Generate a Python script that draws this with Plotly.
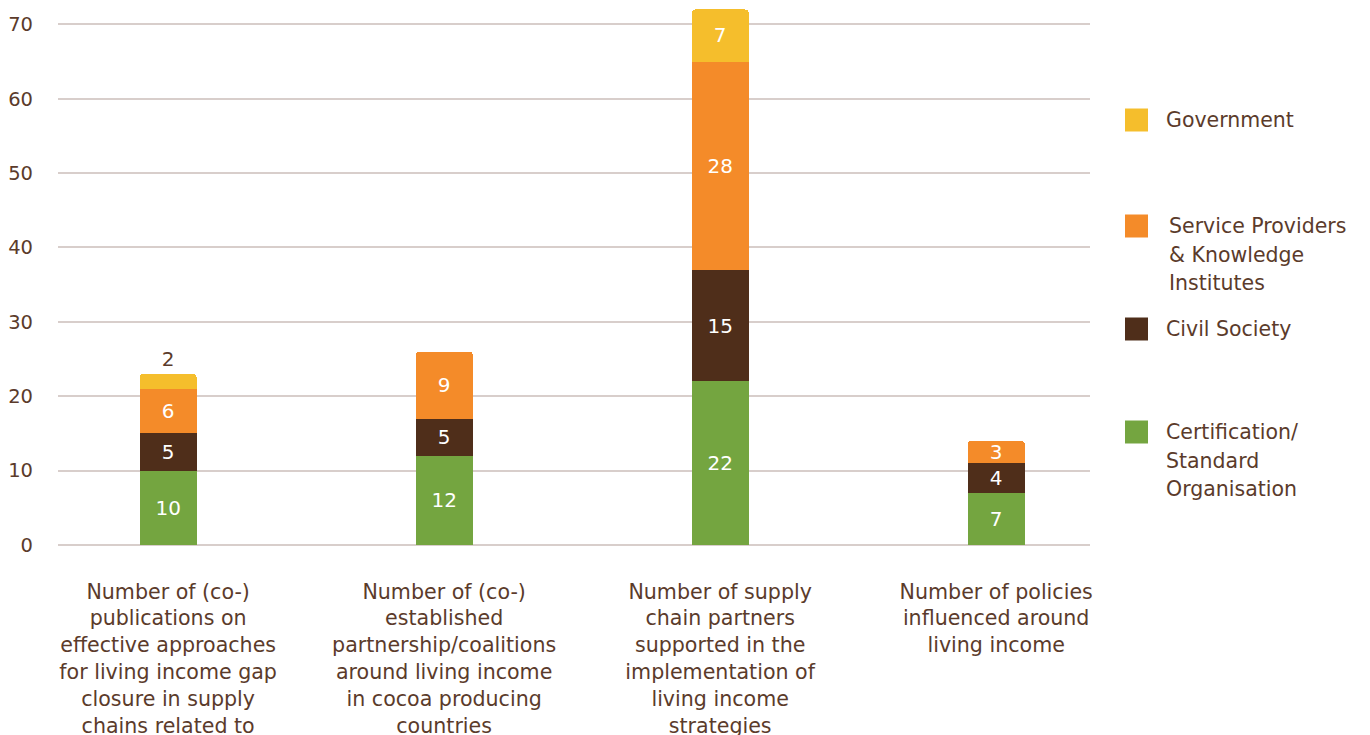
import plotly.graph_objects as go

# Categories (x axis) and stacked series
categories = [
    "Number of (co-)<br>publications on<br>effective approaches<br>for living income gap<br>closure in supply<br>chains related to",
    "Number of (co-)<br>established<br>partnership/coalitions<br>around living income<br>in cocoa producing<br>countries",
    "Number of supply<br>chain partners<br>supported in the<br>implementation of<br>living income<br>strategies",
    "Number of policies<br>influenced around<br>living income",
]
certification = [10, 12, 22, 7]
civil_society = [5, 5, 15, 4]
service_providers = [6, 9, 28, 3]
government = [2, None, 7, None]

series_names = ["Certification/ Standard Organisation", "Civil Society",
                "Service Providers & Knowledge Institutes", "Government"]
legend_lines = {
    "Government": ["Government"],
    "Service Providers & Knowledge Institutes": ["Service Providers", "& Knowledge", "Institutes"],
    "Civil Society": ["Civil Society"],
    "Certification/ Standard Organisation": ["Certification/", "Standard", "Organisation"],
}
y_ticks = [0, 10, 20, 30, 40, 50, 60, 70]

colors = {
    "Government": "#F5BE2C",
    "Service Providers & Knowledge Institutes": "#F48B29",
    "Civil Society": "#4F2E1A",
    "Certification/ Standard Organisation": "#74A540",
}
TEXT = "#5B3B2B"
GRID = "#D8CECB"
FONT = "DejaVu Sans"

x_pos = list(range(len(categories)))
fig = go.Figure()

values_by_series = [certification, civil_society, service_providers, government]
for name, vals in zip(series_names, values_by_series):
    labels = ["" if v is None else str(v) for v in vals]
    if name == "Government":
        positions = ["outside" if (v is not None and v < 4) else "inside" for v in vals]
    else:
        positions = ["inside"] * len(vals)
    fig.add_trace(go.Bar(
        x=x_pos, y=vals, name=name,
        marker=dict(color=colors[name], line=dict(width=0)),
        width=0.207,
        text=labels, textposition=positions, textangle=0,
        insidetextanchor="middle", constraintext="none",
        insidetextfont=dict(color="white", size=20, family=FONT),
        outsidetextfont=dict(color=TEXT, size=20, family=FONT),
        cliponaxis=False,
        showlegend=False,
    ))

# Plot area geometry (pixels) used to place the custom legend
L, R, T, B = 58, 280, 2, 190
W, H = 1370, 735
pw, ph = W - L - R, H - T - B

def px_x(px):
    return (px - L) / pw

def px_y(py):
    return (H - B - py) / ph

legend_order = ["Government", "Service Providers & Knowledge Institutes",
                "Civil Society", "Certification/ Standard Organisation"]
legend_marker_y = [120, 226, 329, 432]
legend_text_x = [1164, 1167, 1164, 1164]
line_step = 28.5

shapes = []
annotations = []
for name, my, tx in zip(legend_order, legend_marker_y, legend_text_x):
    shapes.append(dict(
        type="rect", xref="paper", yref="paper",
        x0=px_x(1125), x1=px_x(1148), y0=px_y(my + 11.5), y1=px_y(my - 11.5),
        fillcolor=colors[name], line=dict(width=0),
    ))
    for i, line in enumerate(legend_lines[name]):
        annotations.append(dict(
            xref="paper", yref="paper", x=px_x(tx), y=px_y(my + i * line_step),
            xanchor="left", yanchor="middle", text=line, showarrow=False,
            font=dict(size=20.5, color=TEXT, family=FONT),
        ))

fig.update_layout(
    width=W, height=H,
    margin=dict(l=L, r=R, t=T, b=B, pad=0, autoexpand=False),
    barmode="stack",
    barcornerradius=4,
    uniformtext=dict(minsize=20, mode="show"),
    paper_bgcolor="white", plot_bgcolor="white",
    font=dict(family=FONT, color=TEXT, size=20),
    shapes=shapes, annotations=annotations,
    xaxis=dict(
        range=[-0.399, 3.34], tickvals=x_pos, ticktext=categories,
        showgrid=False, zeroline=False, showline=False, ticks="",
        tickfont=dict(size=20.6, color=TEXT, family=FONT),
        ticklabelstandoff=32, automargin=False,
    ),
    yaxis=dict(
        range=[0, 73], tickvals=y_ticks, showgrid=True, gridcolor=GRID, gridwidth=1.5,
        zeroline=True, zerolinecolor=GRID, zerolinewidth=1.5, showline=False, ticks="",
        tickfont=dict(size=19.5, color=TEXT, family=FONT),
        ticklabelstandoff=24, automargin=False,
    ),
)

fig.write_html("out.html")
